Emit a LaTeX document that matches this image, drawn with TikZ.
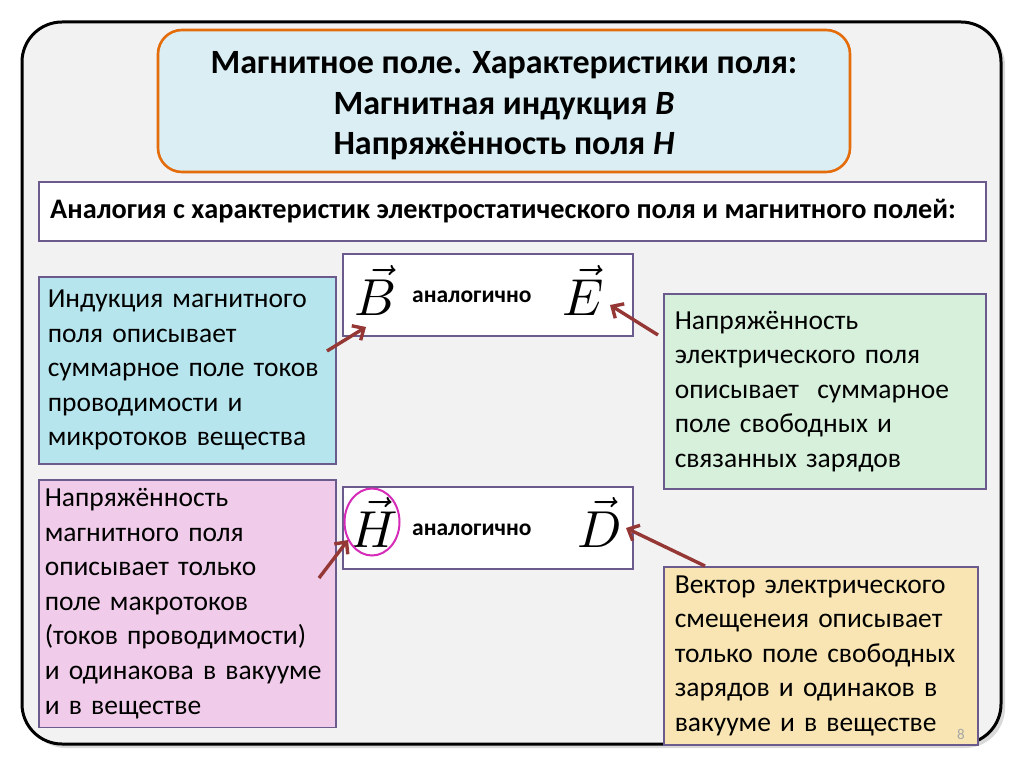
\documentclass[tikz,border=0pt]{standalone}
\usepackage{fontspec}
\setmainfont{Carlito}
\usetikzlibrary{arrows.meta,shapes.geometric}
\definecolor{bggray}{HTML}{F2F2F2}
\definecolor{titlefill}{HTML}{DAEEF3}
\definecolor{titleedge}{HTML}{E46C0A}
\definecolor{boxedge}{HTML}{6B5A8C}
\definecolor{cyanfill}{HTML}{B7E5ED}
\definecolor{greenfill}{HTML}{D6F0DC}
\definecolor{pinkfill}{HTML}{F0CCEA}
\definecolor{yellowfill}{HTML}{F8E5B3}
\definecolor{arrowred}{HTML}{953735}
\definecolor{ringmag}{HTML}{D62AB8}
\begin{document}
\begin{tikzpicture}[x=1pt,y=-1pt,
  textbox/.style={draw=boxedge, line width=1.6pt, inner sep=9pt, anchor=north west,
    align=left, font=\fontsize{27.5}{34.5}\selectfont},
  whitebox/.style={draw=boxedge, line width=1.6pt, fill=white, anchor=north west, inner sep=0pt},
  letter/.style={scale=5.2, inner sep=0pt},
  analog/.style={font=\fontsize{23.5}{28}\selectfont\bfseries, inner sep=0pt, anchor=base west},
  pointer/.style={draw=arrowred, line width=3.4pt, -{Straight Barb[length=9pt,width=17pt,line width=3.4pt]}}
]
\useasboundingbox (0,0) rectangle (1024,767);
% frame
\fill[gray!30] (26,26) [rounded corners=40] rectangle (1005,748);
\draw[line width=3pt, fill=bggray, rounded corners=40] (22,22) rectangle (1001,744);

% title box and text
\node[draw=titleedge, line width=2.6pt, fill=titlefill, rounded corners=24,
  minimum width=692, minimum height=142, inner sep=0pt] (title) at (504,101) {};
\node[align=center, inner sep=0pt, font=\fontsize{34}{38.5}\selectfont\bfseries] (titletxt) at (504,106)
  {Магнитное поле. Характеристики поля:\\[2pt]Магнитная индукция \textit{B}\\[2pt]Напряжённость поля \textit{H}};

% analogy header
\node[whitebox, minimum width=947, minimum height=59] (head) at (38,181) {};
\node[font=\fontsize{28.3}{30}\selectfont\bfseries, anchor=west, inner sep=0pt] (headtxt) at (50,211)
  {Аналогия с характеристик электростатического поля и магнитного полей:};

% B/E box
\node[whitebox, minimum width=290, minimum height=82] (be) at (342,253) {};
\node[letter] (B) at (376,290) {$\vec{B}$};
\node[analog] (an1) at (412,302) {аналогично};
\node[letter] (E) at (583,290) {$\vec{E}$};

% H/D box
\node[whitebox, minimum width=290, minimum height=82] (hd) at (342,486) {};
\node[letter] (H) at (374,522) {$\vec{H}$};
\node[analog] (an2) at (412,535) {аналогично};
\node[letter] (D) at (600,522) {$\vec{D}$};
\node[draw=ringmag, line width=2pt, ellipse, minimum width=55, minimum height=67, inner sep=0pt] (ring) at (372,522) {};

% text boxes
\node[textbox, fill=cyanfill, minimum width=297, minimum height=187, text width=279] (cyan) at (38,276)
  {Индукция магнитного\\поля описывает\\суммарное поле токов\\проводимости и\\микротоков вещества};
\node[textbox, fill=greenfill, minimum width=322, minimum height=195, text width=300, inner xsep=11pt] (green) at (663,293)
  {Напряжённость\\электрического поля\\описывает\ \ суммарное\\поле свободных и\\связанных зарядов};
\node[textbox, fill=pinkfill, minimum width=297, minimum height=241, text width=285, inner xsep=6pt] (pink) at (38,479)
  {Напряжённость\\магнитного поля\\описывает только\\поле макротоков\\(токов проводимости)\\и одинакова в вакууме\\и в веществе};
\node[textbox, fill=yellowfill, minimum width=314, minimum height=176, text width=292, inner xsep=11pt] (yellow) at (663,566)
  {Вектор электрического\\смещенеия описывает\\только поле свободных\\зарядов и одинаков в\\вакууме и в веществе};

% page number
\node[text=gray!70, font=\fontsize{15}{15}\selectfont, inner sep=0pt] (pg) at (961,734) {8};

% arrows
\coordinate (t1) at (327,351); \coordinate (h1) at (366,327);
\coordinate (t2) at (658,335); \coordinate (h2) at (610,305);
\coordinate (t3) at (319,578); \coordinate (h3) at (348,540);
\coordinate (t4) at (705,566); \coordinate (h4) at (626,528);
\draw[pointer] (t1) -- (h1);
\draw[pointer] (t2) -- (h2);
\draw[pointer] (t3) -- (h3);
\draw[pointer] (t4) -- (h4);
\end{tikzpicture}
\end{document}
